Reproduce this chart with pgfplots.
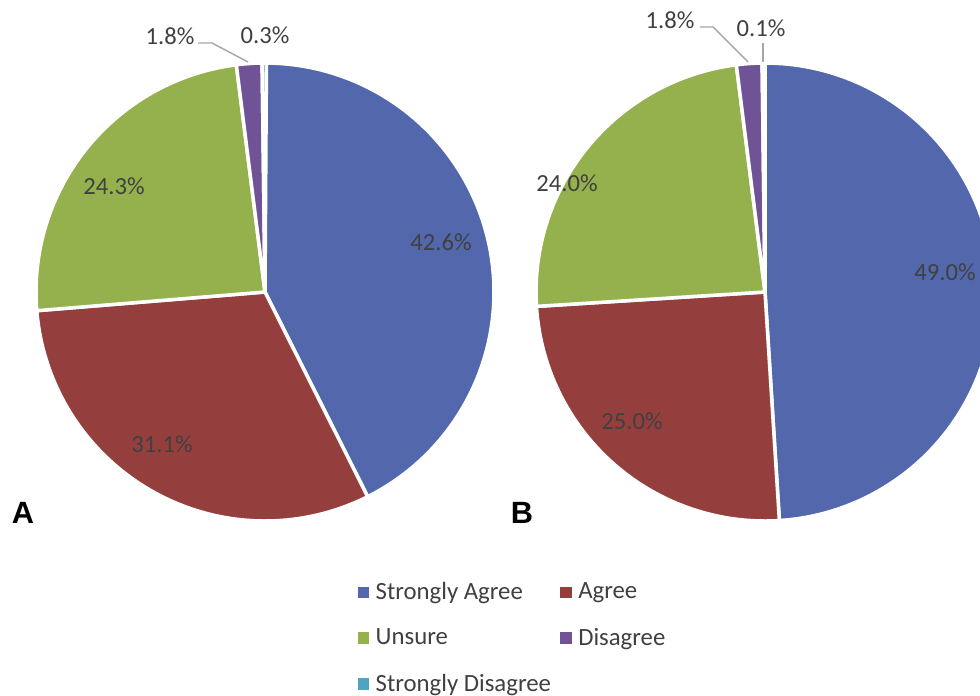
\documentclass[border=0pt]{standalone}
\usepackage{fontspec}
\setmainfont{Carlito}
\newfontfamily\arialfont{Liberation Sans}
\usepackage{pgfplots}
\pgfplotsset{compat=1.18}

\definecolor{cSA}{RGB}{82,103,172}
\definecolor{cAg}{RGB}{148,63,61}
\definecolor{cUn}{RGB}{148,177,78}
\definecolor{cDi}{RGB}{112,82,150}
\definecolor{cSD}{RGB}{79,164,192}
\definecolor{lbl}{RGB}{64,64,64}
\definecolor{lead}{RGB}{166,166,166}

% #1 cx, #2 cy, #3 radius (pixel units), #4 list value/colour, clockwise from top
\newcommand\pie[4]{%
  \gdef\pacc{0}%
  \foreach \v/\c in {#4}{%
    \pgfmathsetmacro\pb{\pacc+3.6*\v}%
    \edef\tmp{\noexpand\fill[\c, draw=white, line width=2pt] (#1,#2) --
      plot[domain=\pacc:\pb, samples=80] ({#1+#3*sin(\noexpand\x)},{#2-#3*cos(\noexpand\x)}) -- cycle;}%
    \tmp
    \xdef\pacc{\pb}%
  }%
}

\begin{document}
\begin{tikzpicture}
\begin{axis}[
  width=19.6cm, height=13.9cm, scale only axis,
  xmin=0, xmax=980, ymin=0, ymax=695, y dir=reverse,
  hide axis,
  legend columns=2,
  legend image code/.code={\fill[#1, draw=none] (0pt,-3.3pt) rectangle (6.6pt,3.3pt);
                           \path[draw=none, fill=none] (6.6pt,0pt) -- (8.3pt,0pt);},
  legend style={draw=none, fill=none, text=lbl,
    font=\fontsize{14.1pt}{17pt}\selectfont,
    at={(axis cs:352,575)}, anchor=north west,
    legend cell align=left, row sep=10.8pt,
    /tikz/every even column/.append style={column sep=3.2pt}},
]
\addlegendimage{cSA}\addlegendentry{Strongly Agree}
\addlegendimage{cAg}\addlegendentry{Agree}
\addlegendimage{cUn}\addlegendentry{Unsure}
\addlegendimage{cDi}\addlegendentry{Disagree}
\addlegendimage{cSD}\addlegendentry{Strongly Disagree}

% A
\pie{265}{292}{229}{42.6/cSA, 31.1/cAg, 24.3/cUn, 1.8/cDi, 0.3/cSD}
% B
\pie{765}{292}{229}{49.0/cSA, 25.0/cAg, 24.0/cUn, 1.8/cDi, 0.1/cSD}

\begin{scope}[every node/.style={text=lbl, font=\fontsize{14pt}{17pt}\selectfont, inner sep=0pt}]
\node at (441,242) {42.6\%};
\node at (162,444) {31.1\%};
\node at (114,186) {24.3\%};
\node at (170,36) {1.8\%};
\node at (265,35) {0.3\%};
\node at (945,272) {49.0\%};
\node at (632,421) {25.0\%};
\node at (567,183) {24.0\%};
\node at (670,20) {1.8\%};
\node at (761,28) {0.1\%};
\end{scope}
\draw[lead, line width=0.8pt] (198,43) -- (212,43) -- (248,62);
\draw[lead, line width=0.8pt] (700,27) -- (713,27) -- (748,62);
\draw[lead, line width=0.8pt] (763,43) -- (763,62);

\node[font=\arialfont\bfseries\fontsize{17.5pt}{20pt}\selectfont] at (23,513) {A};
\node[font=\arialfont\bfseries\fontsize{17.5pt}{20pt}\selectfont] at (522,513) {B};

\coordinate (bl) at (0,695);
\coordinate (tr) at (980,0);
\end{axis}
\pgfresetboundingbox
\useasboundingbox (bl) rectangle (tr);
\end{tikzpicture}
\end{document}
